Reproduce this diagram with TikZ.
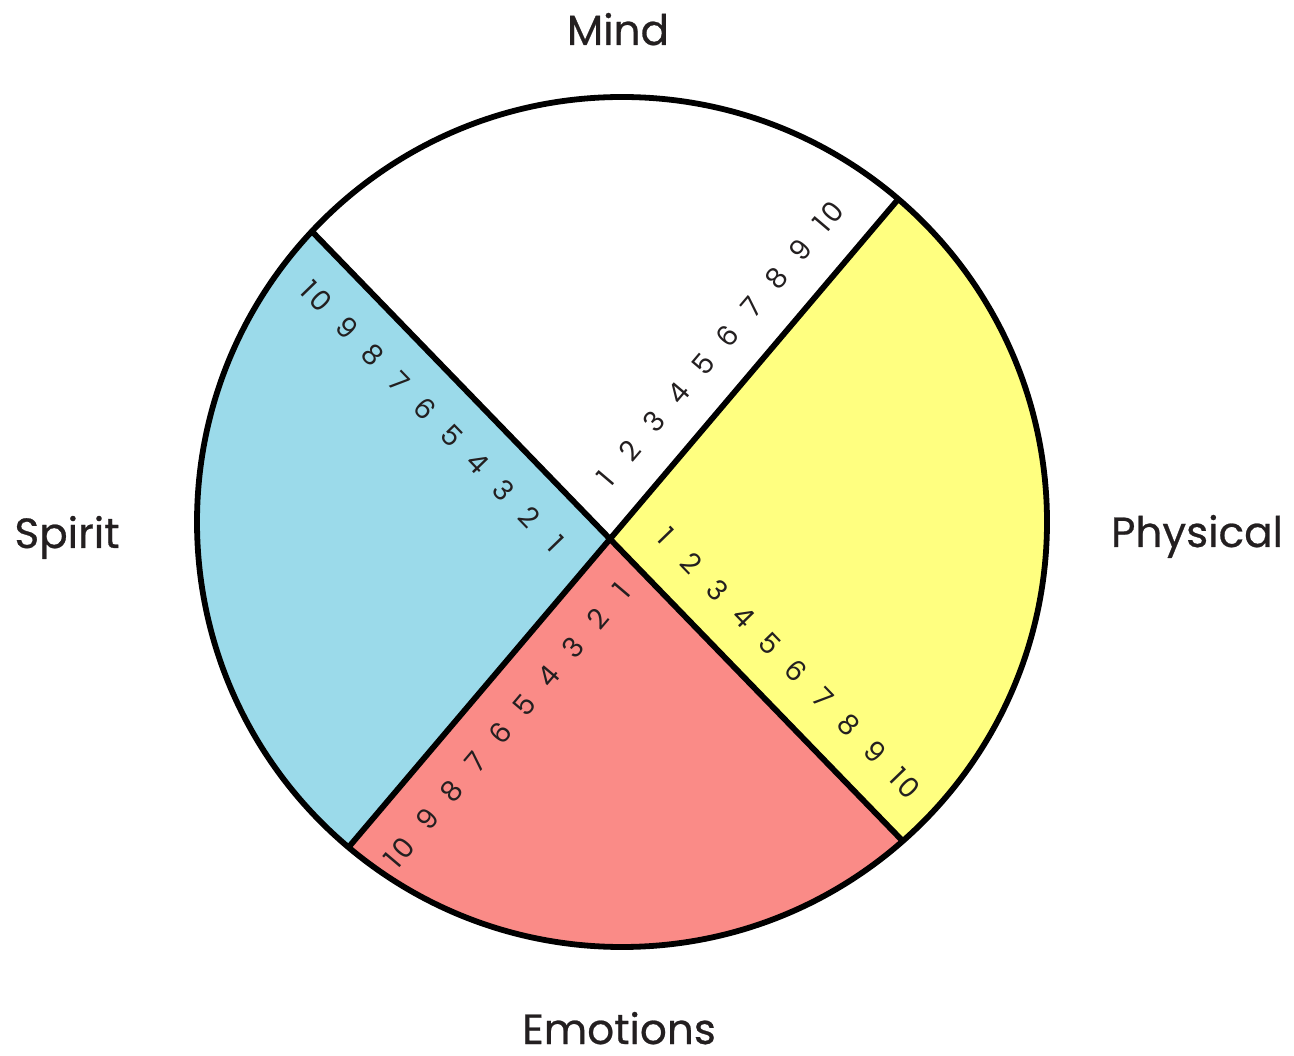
\documentclass[tikz,border=0pt]{standalone}
\usepackage{fontspec}
\setmainfont{Poppins}
\usetikzlibrary{calc}
\definecolor{physyellow}{RGB}{255,255,128}
\definecolor{emored}{RGB}{250,139,135}
\definecolor{spiritblue}{RGB}{155,218,234}
\definecolor{inkgray}{RGB}{35,31,32}
\begin{document}
\begin{tikzpicture}[x=0.02cm, y=0.02cm,
  rim/.style={draw=black, line width=3.3pt},
  lbl/.style={font=\fontsize{24}{28}\selectfont\addfontfeatures{FakeBold=0.6}, text=inkgray, anchor=base, inner sep=0pt},
  num/.style={font=\fontsize{16}{18}\selectfont, text=inkgray, inner sep=0pt}]
  \useasboundingbox (0,0) rectangle (1294,1055);
  \coordinate (O) at (610,516);
  \coordinate (ctr) at (622,533);
  % quarters
  \begin{scope}
    \clip (ctr) circle[radius=425];
    \fill[white] (ctr) circle[radius=425];
    \fill[physyellow] (O) -- ($(O)+(-45.9:900)$) -- ($(O)+(1.9:900)$) -- ($(O)+(49.7:900)$) -- cycle;
    \fill[emored] (O) -- ($(O)+(229.7:900)$) -- ($(O)+(271.9:900)$) -- ($(O)+(314.1:900)$) -- cycle;
    \fill[spiritblue] (O) -- ($(O)+(134.1:900)$) -- ($(O)+(181.9:900)$) -- ($(O)+(229.7:900)$) -- cycle;
    \draw[rim] ($(O)+(49.7:-900)$) -- ($(O)+(49.7:900)$);
    \draw[rim] ($(O)+(-45.9:-900)$) -- ($(O)+(-45.9:900)$);
  \end{scope}
  \draw[rim] (ctr) circle[radius=425];
  % scales
  \foreach \ang/\sgn/\off/\nm in {49.7/1/5.5/mind, -45.9/1/-1/phys, 49.7/-1/-6.3/emo, -45.9/-1/-3.6/spir}
    \foreach \i in {1,...,10}{
      \pgfmathsetmacro{\dist}{\off+37.6*\i+(\i==10)*6}
      \node[num, rotate=\ang] (\nm-\i) at ($(O)+(\ang:{\sgn*\dist})+({\ang+90}:{\sgn*42})$)
        {\ifnum\i=10 1\kern1.8pt0\else\i\fi};
    }
  % labels
  \node[lbl] (mind) at (618,1010) {Mind};
  \node[lbl] (physical) at (1197,508) {Physical};
  \node[lbl] (emotions) at (619,11) {Emotions};
  \node[lbl] (spirit) at (67,507) {Spirit};
\end{tikzpicture}
\end{document}
